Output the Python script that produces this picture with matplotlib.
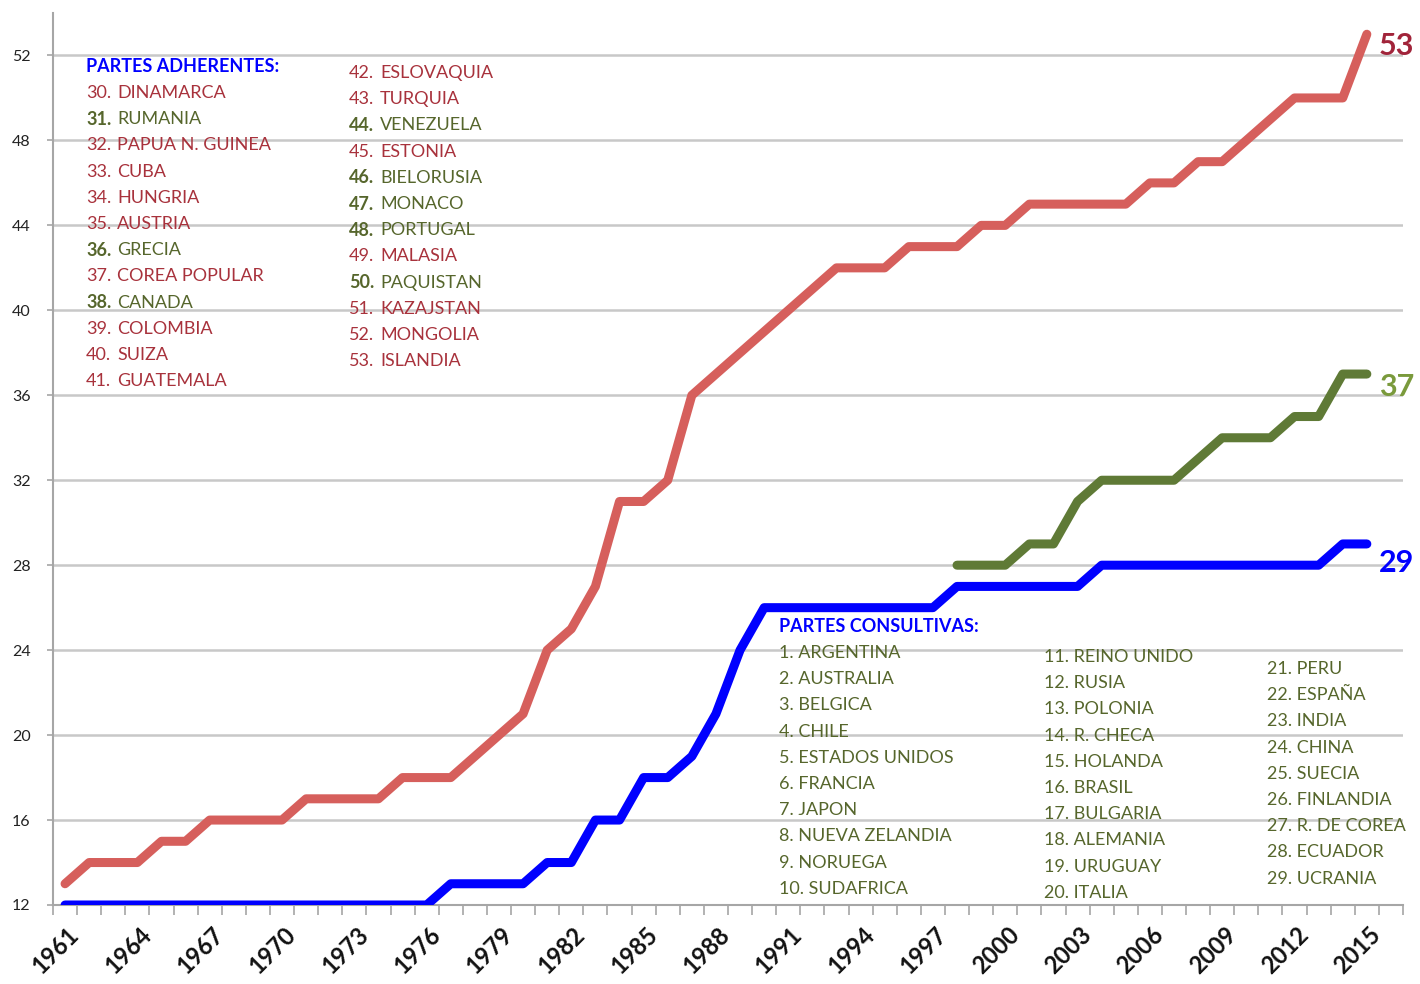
import matplotlib
matplotlib.use("Agg")
import matplotlib.pyplot as plt
import matplotlib.transforms as mtransforms
import numpy as np

plt.rcParams['font.family'] = ['Lato', 'DejaVu Sans']

# datos
years = list(range(1961, 2016))
total_partes = [13, 14, 14, 14, 15, 15, 16, 16, 16, 16, 17, 17, 17, 17, 18, 18, 18, 19, 20, 21,
                24, 25, 27, 31, 31, 32, 36, 37, 38, 39, 40, 41, 42, 42, 42, 43, 43, 43, 44, 44,
                45, 45, 45, 45, 45, 46, 46, 47, 47, 48, 49, 50, 50, 50, 53]
consultivas = [12] * 16 + [13, 13, 13, 13, 14, 14, 16, 16, 18, 18, 19, 21, 24] + [26] * 8 \
    + [27] * 6 + [28] * 10 + [29, 29]
years_verde = list(range(1998, 2016))
verde = [28, 28, 28, 29, 29, 31, 32, 32, 32, 32, 33, 34, 34, 34, 35, 35, 37, 37]

adherentes_1 = [("30.", "DINAMARCA", False), ("31.", "RUMANIA", True), ("32.", "PAPUA N. GUINEA", False),
                ("33.", "CUBA", False), ("34.", "HUNGRIA", False), ("35.", "AUSTRIA", False),
                ("36.", "GRECIA", True), ("37.", "COREA POPULAR", False), ("38.", "CANADA", True),
                ("39.", "COLOMBIA", False), ("40.", "SUIZA", False), ("41.", "GUATEMALA", False)]
adherentes_2 = [("42.", "ESLOVAQUIA", False), ("43.", "TURQUIA", False), ("44.", "VENEZUELA", True),
                ("45.", "ESTONIA", False), ("46.", "BIELORUSIA", True), ("47.", "MONACO", True),
                ("48.", "PORTUGAL", True), ("49.", "MALASIA", False), ("50.", "PAQUISTAN", True),
                ("51.", "KAZAJSTAN", False), ("52.", "MONGOLIA", False), ("53.", "ISLANDIA", False)]
consultivas_1 = ["1. ARGENTINA", "2. AUSTRALIA", "3. BELGICA", "4. CHILE", "5. ESTADOS UNIDOS",
                 "6. FRANCIA", "7. JAPON", "8. NUEVA ZELANDIA", "9. NORUEGA", "10. SUDAFRICA"]
consultivas_2 = ["11. REINO UNIDO", "12. RUSIA", "13. POLONIA", "14. R. CHECA", "15. HOLANDA",
                 "16. BRASIL", "17. BULGARIA", "18. ALEMANIA", "19. URUGUAY", "20. ITALIA"]
consultivas_3 = ["21. PERU", "22. ESPAÑA", "23. INDIA", "24. CHINA", "25. SUECIA",
                 "26. FINLANDIA", "27. R. DE COREA", "28. ECUADOR", "29. UCRANIA"]

ROJO = '#d65f5c'
AZUL = '#0000ff'
VERDE = '#5f7a36'
TXT_ROJO = '#a8323c'
TXT_VERDE = '#56662c'

W, H = 1420, 984
fig = plt.figure(figsize=(W / 100, H / 100), dpi=100)
ax = fig.add_axes([53 / W, 1 - 905 / H, (1403 - 53) / W, (905 - 13) / H])

ax.plot(years, total_partes, color=ROJO, lw=6.5, solid_capstyle='round', solid_joinstyle='round', zorder=3)
ax.plot(years, consultivas, color=AZUL, lw=6.5, solid_capstyle='round', solid_joinstyle='round', zorder=3)
ax.plot(years_verde, verde, color=VERDE, lw=6.5, solid_capstyle='round', solid_joinstyle='round', zorder=3)

ax.set_xlim(1960.5, 2016.5)
ax.set_ylim(12, 54)
ax.set_yticks(range(12, 53, 4))
ax.set_xticks(years[::3])
ax.set_xticks(np.arange(1960.5, 2017, 1), minor=True)
ax.grid(axis='y', color='#c8c8c8', lw=1.8, zorder=0)

for s in ['top', 'right']:
    ax.spines[s].set_visible(False)
for s in ['left', 'bottom']:
    ax.spines[s].set_color('#a6a6a6')
    ax.spines[s].set_linewidth(1.5)

ax.tick_params(axis='y', length=4, color='#a6a6a6', width=1.2, labelsize=11.5, labelcolor='#222222', pad=12)
ax.tick_params(axis='x', which='major', length=0, pad=13)
ax.tick_params(axis='x', which='minor', length=7, color='#a6a6a6', width=1.2)
for lbl in ax.get_xticklabels():
    lbl.set_rotation(45)
    lbl.set_ha('right')
    lbl.set_va('top')
    lbl.set_rotation_mode('anchor')
    lbl.set_fontsize(17)
    lbl.set_fontweight('bold')
    lbl.set_color('#111111')
    lbl.set_transform(lbl.get_transform() + mtransforms.ScaledTranslation(2 / 100, 0, fig.dpi_scale_trans))

# etiquetas finales
ax.annotate(str(total_partes[-1]), (years[-1], total_partes[-1]), xytext=(12, -12), textcoords='offset pixels',
            fontsize=22, fontweight='bold', color='#a1243a', va='center', ha='left')
ax.annotate(str(verde[-1]), (years_verde[-1], verde[-1]), xytext=(12, -13), textcoords='offset pixels',
            fontsize=22, fontweight='bold', color='#7a9a3c', va='center', ha='left')
ax.annotate(str(consultivas[-1]), (years[-1], consultivas[-1]), xytext=(12, -19), textcoords='offset pixels',
            fontsize=22, fontweight='bold', color=AZUL, va='center', ha='left')


def ftext(x, y, s, **kw):
    fig.text(x / W, 1 - y / H, s, va='center', ha='left', fontsize=13, **kw)


# partes adherentes
ftext(86, 67, "PARTES ADHERENTES:", color=AZUL, fontweight='bold')
for (x0, y0, lista) in [(86, 93, adherentes_1), (349, 73, adherentes_2)]:
    for i, (num, nombre, verde_txt) in enumerate(lista):
        y = y0 + i * 26.2
        if verde_txt:
            ftext(x0, y, num, color=TXT_VERDE, fontweight='bold')
            ftext(x0 + 31, y, nombre, color=TXT_VERDE)
        else:
            ftext(x0, y, num, color=TXT_ROJO)
            ftext(x0 + 31, y, nombre, color=TXT_ROJO)

# partes consultivas
ftext(779, 627, "PARTES CONSULTIVAS:", color=AZUL, fontweight='bold')
for (x0, y0, lista) in [(779, 653, consultivas_1), (1044, 657, consultivas_2), (1267, 669, consultivas_3)]:
    for i, s in enumerate(lista):
        ftext(x0, y0 + i * 26.2, s, color=TXT_VERDE)

fig.savefig("out.png", dpi=100)
